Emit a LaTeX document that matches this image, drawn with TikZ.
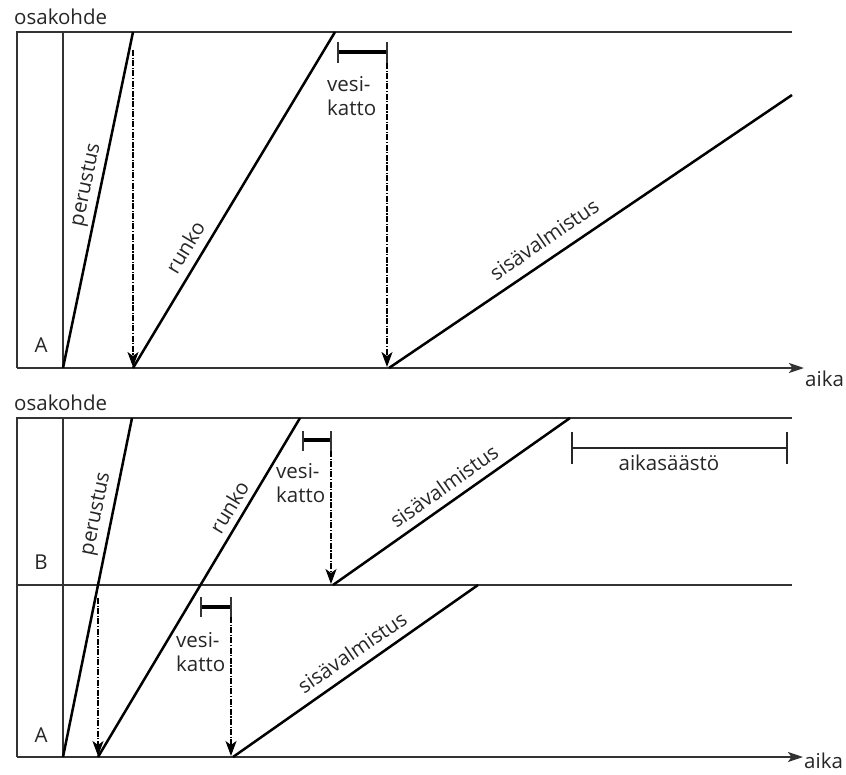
\documentclass[tikz,border=0pt]{standalone}
\usepackage{fontspec}
\setmainfont{Open Sans}
\usetikzlibrary{arrows.meta}
\begin{document}
\begin{tikzpicture}[x=1pt,y=-1pt,
  frame/.style={line width=2.2pt, draw=black!80},
  axis/.style={frame, -{Stealth[length=15pt,width=10pt,inset=3.5pt]}},
  phase/.style={line width=2.5pt, draw=black},
  drop/.style={line width=1.5pt, draw=black, dash pattern=on 6pt off 1.5pt on 1.2pt off 1.5pt,
    -{Stealth[length=15pt,width=11pt,inset=4pt]}},
  roofbar/.style={line width=3.4pt, draw=black},
  savebar/.style={line width=2.2pt, draw=black!85},
  lbl/.style={font=\fontsize{20.5}{24.5}\selectfont, text=black!85, inner sep=0pt},
]
\useasboundingbox (0,0) rectangle (846,774);

% ---------------- upper chart: one sub-site ----------------
\coordinate (u-tl) at (17,32);
\coordinate (u-tr) at (792,32);
\coordinate (u-bl) at (17,368);
\coordinate (u-ax) at (804,368);
\coordinate (u-ct) at (63,32);
\coordinate (u-cb) at (63,368);

\draw[frame] (u-tr) -- (u-tl) -- (u-bl);
\draw[frame] (u-ct) -- (u-cb);
\draw[axis] (u-bl) -- (u-ax);

\node[lbl, anchor=base west] (u-osa) at (14,24) {osakohde};
\node[lbl, anchor=base west] (u-aika) at (805,386) {aika};
\node[lbl] (u-A) at (41,345) {A};

% phases
\coordinate (u-p0) at (63,368);
\coordinate (u-p1) at (133,32);
\coordinate (u-r0) at (133,368);
\coordinate (u-r1) at (335,32);
\coordinate (u-s0) at (389,368);
\coordinate (u-s1) at (792,95);
\draw[phase] (u-p0) -- (u-p1);
\draw[phase] (u-r0) -- (u-r1);
\draw[phase] (u-s0) -- (u-s1);

\node[lbl, rotate=78.3] (u-per) at (87,185) {perustus};
\node[lbl, rotate=59] (u-run) at (185,247) {runko};
\node[lbl, rotate=34.4] (u-sis) at (544,239) {sisävalmistus};

% roof interval and dependencies
\coordinate (u-v0) at (338,52);
\coordinate (u-v1) at (387,52);
\coordinate (u-v0t) at (338,42);
\coordinate (u-v0b) at (338,63);
\coordinate (u-v1t) at (387,42);
\coordinate (u-v1b) at (387,63);
\draw[roofbar] (u-v0) -- (u-v1);
\draw[frame] (u-v0t) -- (u-v0b);
\draw[frame] (u-v1t) -- (u-v1b);
\node[lbl, align=left, anchor=north west] (u-ves) at (327,76) {vesi-\\katto};

\coordinate (u-d1) at (133,50);
\coordinate (u-d1e) at (133,367);
\draw[drop] (u-d1) -- (u-d1e);
\draw[drop] (u-v1b) -- (387,367);

% ---------------- lower chart: two sub-sites ----------------
\coordinate (l-tl) at (17,418);
\coordinate (l-tr) at (792,418);
\coordinate (l-bl) at (17,757);
\coordinate (l-ax) at (803,757);
\coordinate (l-ml) at (17,585);
\coordinate (l-mr) at (792,585);
\coordinate (l-ct) at (63,418);
\coordinate (l-cb) at (63,757);

\draw[frame] (l-tr) -- (l-tl) -- (l-bl);
\draw[frame] (l-ml) -- (l-mr);
\draw[frame] (l-ct) -- (l-cb);
\draw[axis] (l-bl) -- (l-ax);

\node[lbl, anchor=base west] (l-osa) at (14,410) {osakohde};
\node[lbl, anchor=base west] (l-aika) at (804,768) {aika};
\node[lbl] (l-B) at (41,562) {B};
\node[lbl] (l-A) at (41,735) {A};

% phases spanning both sub-sites
\coordinate (l-p0) at (63,757);
\coordinate (l-p1) at (132,418);
\coordinate (l-r0) at (98,757);
\coordinate (l-r1) at (300,418);
\draw[phase] (l-p0) -- (l-p1);
\draw[phase] (l-r0) -- (l-r1);
\node[lbl, rotate=78.4] (l-per) at (97,514) {perustus};
\node[lbl, rotate=58.9] (l-run) at (229,507) {runko};

% sub-site B interior work
\coordinate (b-s0) at (333,585);
\coordinate (b-s1) at (570,418);
\draw[phase] (b-s0) -- (b-s1);
\node[lbl, rotate=35.2] (b-sis) at (444,486) {sisävalmistus};

\coordinate (b-v0) at (303,440);
\coordinate (b-v1) at (331,440);
\coordinate (b-v0t) at (303,431);
\coordinate (b-v0b) at (303,451);
\coordinate (b-v1t) at (331,431);
\coordinate (b-v1b) at (331,451);
\draw[roofbar] (b-v0) -- (b-v1);
\draw[frame] (b-v0t) -- (b-v0b);
\draw[frame] (b-v1t) -- (b-v1b);
\node[lbl, align=left, anchor=north west] (b-ves) at (276,463) {vesi-\\katto};
\draw[drop] (b-v1b) -- (331,584);

% sub-site A interior work
\coordinate (a-s0) at (233,757);
\coordinate (a-s1) at (478,585);
\draw[phase] (a-s0) -- (a-s1);
\node[lbl, rotate=34.4] (a-sis) at (352,652) {sisävalmistus};

\coordinate (a-v0) at (201,607);
\coordinate (a-v1) at (231,607);
\coordinate (a-v0t) at (201,597);
\coordinate (a-v0b) at (201,617);
\coordinate (a-v1t) at (231,597);
\coordinate (a-v1b) at (231,617);
\draw[roofbar] (a-v0) -- (a-v1);
\draw[frame] (a-v0t) -- (a-v0b);
\draw[frame] (a-v1t) -- (a-v1b);
\node[lbl, align=left, anchor=north west] (a-ves) at (176,632) {vesi-\\katto};
\draw[drop] (a-v1b) -- (231,756);

\coordinate (a-d1) at (98,598);
\draw[drop] (a-d1) -- (98,756);

% time saved
\coordinate (s-0) at (572,448);
\coordinate (s-1) at (787,448);
\draw[savebar] (s-0) -- (s-1);
\draw[savebar] (572,432) -- (572,464);
\draw[savebar] (787,432) -- (787,464);
\node[lbl, anchor=north] (s-txt) at (669,455) {aikasäästö};
\end{tikzpicture}
\end{document}
